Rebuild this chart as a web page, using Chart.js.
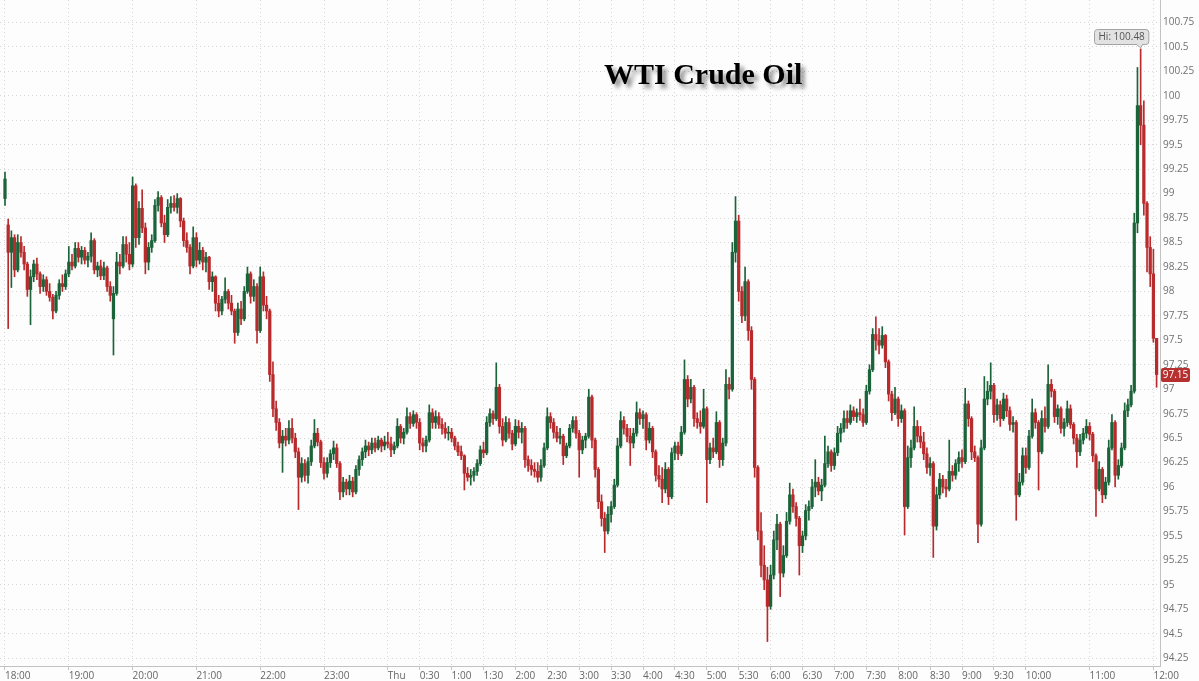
<!DOCTYPE html>
<html><head><meta charset="utf-8">
<script src="https://cdn.jsdelivr.net/npm/chart.js@4.4.1/dist/chart.umd.min.js"></script>
<style>
html,body{margin:0;padding:0;background:#fdfdfd;}
#wrap{position:relative;width:1199px;height:681px;}
#title{position:absolute;left:604px;top:57px;font:bold 30px "Liberation Serif","Times New Roman",serif;color:#000;text-shadow:4px 4px 4px rgba(0,0,0,0.45);white-space:nowrap;}
</style></head><body>
<div id="wrap"><canvas id="c" width="1199" height="681"></canvas><div id="title">WTI Crude Oil</div></div>
<script>
// 3-minute candles starting at 18:00
const BAR_MINUTES = 3;
const opens = [
98.95,98.68,98.40,98.55,98.22,98.50,98.40,98.28,98.02,98.15,98.28,98.18,98.05,98.12,98.00,97.94,97.80,97.96,98.08,98.05,
98.18,98.30,98.26,98.44,98.35,98.42,98.32,98.36,98.52,98.22,98.26,98.16,98.24,98.05,97.72,97.98,98.30,98.26,98.48,98.38,
98.28,99.08,98.55,98.85,98.65,98.30,98.45,98.52,98.88,98.96,98.70,98.58,98.86,98.90,98.86,98.95,98.72,98.52,98.45,98.26,
98.55,98.32,98.42,98.30,98.35,98.10,98.15,97.88,97.80,97.92,98.00,97.88,97.80,97.58,97.82,97.72,98.00,98.18,97.95,98.05,
97.60,98.15,97.86,97.80,97.15,96.80,96.66,96.45,96.52,96.48,96.60,96.50,96.36,96.10,96.24,96.12,96.26,96.42,96.55,96.46,
96.25,96.14,96.25,96.34,96.40,96.24,95.95,96.05,95.98,96.06,95.95,96.18,96.28,96.36,96.42,96.38,96.45,96.40,96.48,96.42,
96.46,96.44,96.38,96.42,96.62,96.50,96.56,96.72,96.65,96.74,96.66,96.45,96.42,96.48,96.76,96.66,96.72,96.64,96.60,96.55,
96.56,96.50,96.42,96.36,96.32,96.14,96.10,96.12,96.16,96.24,96.38,96.35,96.66,96.75,96.70,97.02,96.62,96.48,96.66,96.55,
96.44,96.62,96.56,96.60,96.28,96.22,96.18,96.16,96.10,96.22,96.40,96.72,96.66,96.56,96.50,96.52,96.32,96.42,96.60,96.68,
96.55,96.38,96.48,96.52,96.92,96.48,96.18,95.85,95.68,95.55,95.72,95.80,96.02,96.42,96.68,96.60,96.52,96.45,96.55,96.76,
96.70,96.74,96.48,96.60,96.36,96.12,96.08,95.98,96.18,95.90,96.35,96.42,96.34,96.56,97.10,96.90,97.02,96.70,96.66,96.62,
96.80,96.28,96.40,96.36,96.66,96.28,96.45,97.05,97.00,98.40,98.72,98.00,97.75,98.10,97.60,97.10,96.20,95.55,95.20,95.05,
94.78,95.10,95.46,95.62,95.12,95.30,95.65,95.92,95.80,95.68,95.40,95.50,95.76,95.80,96.00,96.05,95.96,96.02,96.24,96.36,
96.22,96.35,96.55,96.60,96.70,96.66,96.78,96.72,96.76,96.74,96.66,96.98,97.20,97.56,97.50,97.45,97.55,97.28,96.95,96.76,
96.90,96.70,96.78,95.80,96.30,96.40,96.62,96.52,96.46,96.34,96.20,96.24,95.60,95.92,96.08,96.00,95.98,96.16,96.12,96.24,
96.30,96.26,96.85,96.70,96.36,96.30,95.62,96.40,96.90,96.98,97.04,96.74,96.84,96.70,96.90,96.78,96.64,96.66,95.92,96.05,
96.32,96.20,96.52,96.76,96.66,96.36,96.70,96.62,97.05,96.98,96.72,96.80,96.60,96.66,96.80,96.64,96.50,96.36,96.48,96.55,
96.62,96.54,96.32,95.98,96.18,95.92,96.05,96.40,96.66,96.12,96.22,96.40,96.78,96.84,96.98,98.70,99.90,99.70,98.90,98.45,98.18,97.52
];
const highs = [
99.22,98.74,98.62,98.58,98.58,98.56,98.46,98.30,98.22,98.32,98.34,98.20,98.17,98.15,98.08,97.97,98.00,98.12,98.17,98.22,
98.46,98.38,98.50,98.50,98.46,98.45,98.40,98.60,98.54,98.30,98.32,98.30,98.26,98.10,98.05,98.40,98.38,98.56,98.56,98.50,
99.17,99.10,98.92,99.04,98.70,98.50,98.58,98.94,99.02,98.98,98.78,98.94,98.97,98.98,99.00,98.96,98.75,98.60,98.48,98.66,
98.60,98.50,98.45,98.40,98.36,98.20,98.16,97.96,97.95,98.14,98.02,97.96,97.82,97.88,97.90,98.05,98.25,98.20,98.12,98.08,
98.25,98.20,97.95,97.82,97.28,96.88,96.70,96.58,96.60,96.68,96.70,96.55,96.40,96.30,96.28,96.30,96.48,96.69,96.60,96.48,
96.30,96.30,96.38,96.47,96.44,96.26,96.10,96.08,96.12,96.10,96.22,96.32,96.40,96.48,96.46,96.50,96.50,96.52,96.50,96.52,
96.56,96.51,96.46,96.70,96.64,96.60,96.81,96.76,96.78,96.76,96.70,96.50,96.52,96.84,96.80,96.78,96.76,96.70,96.66,96.62,
96.60,96.52,96.46,96.42,96.33,96.20,96.18,96.20,96.28,96.42,96.46,96.72,96.80,96.78,97.27,97.05,96.70,96.72,96.70,96.58,
96.69,96.68,96.66,96.62,96.32,96.28,96.25,96.25,96.28,96.45,96.81,96.76,96.70,96.62,96.60,96.54,96.45,96.64,96.72,96.72,
96.58,96.52,96.55,97.00,96.94,96.50,96.20,95.92,95.74,95.80,95.85,96.08,96.50,96.77,96.72,96.64,96.60,96.60,96.87,96.80,
96.78,96.76,96.66,96.62,96.38,96.22,96.20,96.25,96.20,96.40,96.46,96.46,96.62,97.30,97.14,97.10,97.04,96.76,96.78,97.00,
96.82,96.45,96.50,96.77,96.68,96.50,97.20,97.12,98.50,98.97,98.78,98.05,98.25,98.12,97.64,97.12,96.22,95.74,95.40,95.18,
95.20,95.55,95.72,95.64,95.40,95.74,96.04,95.98,95.84,95.70,95.55,95.82,95.86,96.08,96.28,96.10,96.08,96.52,96.42,96.38,
96.40,96.62,96.65,96.78,96.78,96.84,96.82,96.80,96.90,96.80,97.04,97.25,97.62,97.74,97.62,97.64,97.56,97.30,96.98,97.02,
96.92,96.84,96.80,96.42,96.48,96.82,96.68,96.62,96.56,96.40,96.30,96.26,96.00,96.14,96.12,96.08,96.48,96.22,96.28,96.36,
96.38,97.01,96.88,96.72,96.42,96.32,96.48,97.13,97.08,97.27,97.06,96.90,96.88,96.96,96.94,96.82,96.72,96.68,96.14,96.40,
96.40,96.58,96.90,96.80,96.68,96.78,96.82,97.25,97.10,97.00,96.84,96.82,96.70,96.88,96.84,96.66,96.54,96.54,96.60,96.69,
96.66,96.56,96.34,96.26,96.20,96.10,96.48,96.74,96.68,96.28,96.45,96.86,96.90,97.04,98.80,100.29,100.48,99.95,98.92,98.56,98.43,97.52
];
const lows = [
98.88,97.62,98.04,98.15,98.20,98.35,98.22,97.95,97.66,98.10,98.12,97.98,98.00,97.96,97.90,97.72,97.78,97.92,98.00,98.02,
98.15,98.22,98.24,98.30,98.28,98.28,98.25,98.30,98.18,98.15,98.12,98.12,98.00,97.90,97.35,97.96,98.18,98.24,98.30,98.22,
98.25,98.45,98.48,98.60,98.18,98.22,98.40,98.50,98.82,98.66,98.50,98.56,98.80,98.82,98.80,98.66,98.46,98.40,98.18,98.24,
98.25,98.28,98.22,98.20,98.02,98.00,97.80,97.74,97.76,97.88,97.82,97.76,97.47,97.55,97.66,97.70,97.98,97.88,97.90,97.47,
97.58,97.80,97.72,97.08,96.72,96.58,96.40,96.15,96.42,96.44,96.45,96.30,95.77,96.05,96.06,96.04,96.22,96.40,96.42,96.20,
96.08,96.10,96.20,96.28,96.20,95.87,95.90,95.92,95.92,95.90,95.93,96.12,96.22,96.30,96.32,96.34,96.36,96.38,96.36,96.38,
96.40,96.31,96.34,96.40,96.45,96.44,96.54,96.60,96.62,96.60,96.38,96.36,96.36,96.46,96.60,96.60,96.60,96.54,96.50,96.48,
96.46,96.38,96.32,96.28,95.97,96.06,96.02,96.06,96.12,96.22,96.30,96.33,96.62,96.64,96.68,96.55,96.42,96.46,96.50,96.38,
96.42,96.50,96.45,96.20,96.16,96.12,96.10,96.05,96.06,96.20,96.38,96.60,96.50,96.46,96.44,96.23,96.30,96.40,96.56,96.50,
96.10,96.34,96.40,96.50,96.40,96.10,95.78,95.60,95.33,95.52,95.64,95.78,96.00,96.40,96.54,96.46,96.22,96.40,96.52,96.64,
96.60,96.38,96.45,96.30,96.06,96.00,95.84,95.94,95.82,95.88,96.28,96.28,96.32,96.54,96.82,96.86,96.62,96.60,96.55,96.60,
95.84,96.24,96.30,96.34,96.20,96.22,96.42,96.90,96.98,98.30,97.90,97.68,97.70,97.50,97.00,96.10,95.46,95.08,94.95,94.42,
94.75,95.06,95.36,94.88,95.08,95.28,95.62,95.74,95.60,95.10,95.33,95.46,95.66,95.78,95.90,95.92,95.86,96.00,96.20,96.16,
96.18,96.32,96.46,96.56,96.60,96.64,96.68,96.66,96.68,96.62,96.64,96.95,97.18,97.40,97.36,97.42,97.22,96.88,96.68,96.74,
96.62,96.66,95.51,95.78,96.20,96.38,96.46,96.40,96.28,96.14,96.12,95.28,95.56,95.88,95.94,95.90,95.96,96.06,96.08,96.16,
96.20,96.24,96.62,96.28,96.26,95.43,95.60,96.38,96.84,96.90,96.66,96.68,96.62,96.68,96.72,96.58,96.56,95.66,95.90,96.02,
96.14,96.18,96.50,96.60,95.97,96.34,96.56,96.60,96.92,96.66,96.64,96.55,96.52,96.62,96.60,96.44,96.20,96.32,96.44,96.50,
96.48,96.26,95.70,95.96,95.84,95.88,96.02,96.38,96.00,96.08,96.20,96.38,96.72,96.82,96.96,98.60,99.50,98.78,98.20,98.05,97.48,97.02
];
const closes = [
99.15,98.40,98.55,98.22,98.50,98.40,98.28,98.02,98.15,98.28,98.18,98.05,98.12,98.00,97.94,97.80,97.96,98.08,98.05,98.18,
98.30,98.26,98.44,98.35,98.42,98.32,98.36,98.52,98.22,98.26,98.16,98.24,98.05,97.96,97.98,98.30,98.26,98.48,98.38,98.28,
99.08,98.55,98.85,98.65,98.30,98.45,98.52,98.88,98.96,98.70,98.58,98.86,98.90,98.86,98.95,98.72,98.52,98.45,98.26,98.55,
98.32,98.42,98.30,98.35,98.10,98.15,97.88,97.80,97.92,98.00,97.88,97.80,97.58,97.82,97.72,98.00,98.18,97.95,98.05,97.60,
98.15,97.86,97.80,97.15,96.80,96.66,96.45,96.52,96.48,96.60,96.50,96.36,96.10,96.24,96.12,96.26,96.42,96.55,96.46,96.25,
96.14,96.25,96.34,96.40,96.24,95.95,96.05,95.98,96.06,95.95,96.18,96.28,96.36,96.42,96.38,96.45,96.40,96.48,96.42,96.46,
96.44,96.38,96.42,96.62,96.50,96.56,96.72,96.65,96.74,96.66,96.45,96.42,96.48,96.76,96.66,96.72,96.64,96.60,96.55,96.56,
96.50,96.42,96.36,96.32,96.14,96.10,96.12,96.16,96.24,96.38,96.35,96.66,96.75,96.70,97.02,96.62,96.48,96.66,96.55,96.44,
96.62,96.56,96.60,96.28,96.22,96.18,96.16,96.10,96.22,96.40,96.72,96.66,96.56,96.50,96.52,96.32,96.42,96.60,96.68,96.55,
96.38,96.48,96.52,96.92,96.48,96.18,95.85,95.68,95.55,95.72,95.80,96.02,96.42,96.68,96.60,96.52,96.45,96.55,96.76,96.70,
96.74,96.48,96.60,96.36,96.12,96.08,95.98,96.18,95.90,96.35,96.42,96.34,96.56,97.10,96.90,97.02,96.70,96.66,96.62,96.80,
96.28,96.40,96.36,96.66,96.28,96.45,97.05,97.00,98.40,98.72,98.00,97.75,98.10,97.60,97.10,96.20,95.55,95.20,95.05,94.78,
95.10,95.46,95.62,95.12,95.30,95.65,95.92,95.80,95.68,95.40,95.50,95.76,95.80,96.00,96.05,95.96,96.02,96.24,96.36,96.22,
96.35,96.55,96.60,96.70,96.66,96.78,96.72,96.76,96.74,96.66,96.98,97.20,97.56,97.50,97.45,97.55,97.28,96.95,96.76,96.90,
96.70,96.78,95.80,96.30,96.40,96.62,96.52,96.46,96.34,96.20,96.24,95.60,95.92,96.08,96.00,95.98,96.16,96.12,96.24,96.30,
96.26,96.85,96.70,96.36,96.30,95.62,96.40,96.90,96.98,97.04,96.74,96.84,96.70,96.90,96.78,96.64,96.66,95.92,96.05,96.32,
96.20,96.52,96.76,96.66,96.36,96.70,96.62,97.05,96.98,96.72,96.80,96.60,96.66,96.80,96.64,96.50,96.36,96.48,96.55,96.62,
96.54,96.32,95.98,96.18,95.92,96.05,96.40,96.66,96.12,96.22,96.40,96.78,96.84,96.98,98.70,99.90,99.70,98.90,98.45,98.18,97.52,97.15
];
// axis ticks (minutes after 18:00) and their labels
const tickMinutes = [0,60,120,180,240,300,360,390,420,450,480,510,540,570,600,630,660,690,720,750,780,810,840,870,900,930,960,1020,1080];
const tickLabels = ['18:00','19:00','20:00','21:00','22:00','23:00','Thu','0:30','1:00','1:30','2:00','2:30','3:00','3:30','4:00','4:30','5:00','5:30','6:00','6:30','7:00','7:30','8:00','8:30','9:00','9:30','10:00','11:00','12:00'];
const priceTicks = [94.25,94.5,94.75,95,95.25,95.5,95.75,96,96.25,96.5,96.75,97,97.25,97.5,97.75,98,98.25,98.5,98.75,99,99.25,99.5,99.75,100,100.25,100.5,100.75];

const UP = '#1b6338', DOWN = '#b92a2d';
const times = closes.map((_, i) => i * BAR_MINUTES);
const labelAt = {}; tickMinutes.forEach((m, i) => labelAt[m] = tickLabels[i]);
const colorOf = i => closes[i] >= opens[i] ? UP : DOWN;
const FONT = '"Open Sans", "Liberation Sans", sans-serif';

function rr(ctx, x, y, w, h, r) {
  ctx.beginPath();
  ctx.moveTo(x + r, y); ctx.lineTo(x + w - r, y); ctx.quadraticCurveTo(x + w, y, x + w, y + r);
  ctx.lineTo(x + w, y + h - r); ctx.quadraticCurveTo(x + w, y + h, x + w - r, y + h);
  ctx.lineTo(x + r, y + h); ctx.quadraticCurveTo(x, y + h, x, y + h - r);
  ctx.lineTo(x, y + r); ctx.quadraticCurveTo(x, y, x + r, y); ctx.closePath();
}

const annotate = {
  id: 'annotate',
  afterDraw(chart) {
    const {ctx, scales: {x, y}, chartArea} = chart;
    // high marker
    let k = 0; highs.forEach((h, i) => { if (h > highs[k]) k = i; });
    const px = x.getPixelForValue(times[k]), py = y.getPixelForValue(highs[k]);
    const txt = 'Hi: ' + highs[k].toFixed(2);
    ctx.save();
    ctx.font = '10px ' + FONT;
    const w = ctx.measureText(txt).width + 8, h = 15;
    const bx = Math.round(px + 8 - w) + 0.5, by = Math.round(py - 5 - h) + 0.5;
    ctx.fillStyle = '#e2e2e2'; ctx.strokeStyle = '#a3a3a3'; ctx.lineWidth = 1;
    rr(ctx, bx, by, w, h, 3); ctx.fill(); ctx.stroke();
    ctx.beginPath(); ctx.moveTo(px - 4, by + h); ctx.lineTo(px, py - 1); ctx.lineTo(px + 2, by + h); ctx.closePath();
    ctx.fill(); ctx.stroke();
    ctx.fillStyle = '#e2e2e2'; ctx.fillRect(px - 3.5, by + h - 1.5, 5, 2);
    ctx.fillStyle = '#555'; ctx.textAlign = 'center'; ctx.textBaseline = 'middle';
    ctx.fillText(txt, bx + w / 2, by + h / 2 + 0.5);
    // last price tag
    const last = closes[closes.length - 1];
    const ly = y.getPixelForValue(last);
    const tx = chartArea.right + 1;
    ctx.fillStyle = '#b5302f';
    rr(ctx, tx, Math.round(ly - 7), 29, 14, 2); ctx.fill();
    ctx.fillStyle = '#fff'; ctx.textAlign = 'center';
    ctx.fillText(last.toFixed(2), tx + 14.5, Math.round(ly) + 0.5);
    ctx.restore();
  }
};

new Chart(document.getElementById('c'), {
  type: 'bar',
  data: {
    datasets: [
      { label: 'range', data: times.map((t, i) => ({x: t, y: [lows[i], highs[i]]})),
        barThickness: 1, grouped: false, order: 2, backgroundColor: c => colorOf(c.dataIndex) },
      { label: 'body', data: times.map((t, i) => ({x: t, y: [opens[i], closes[i]]})),
        barThickness: 2.6, minBarLength: 1, grouped: false, order: 1, backgroundColor: c => colorOf(c.dataIndex) }
    ]
  },
  options: {
    responsive: false, animation: false, events: [],
    layout: { padding: 0 },
    plugins: { legend: { display: false }, tooltip: { enabled: false }, title: { display: false } },
    scales: {
      x: {
        type: 'linear', position: 'bottom', min: -4.7, max: 1086.2, offset: false,
        grid: { color: '#d6d6d6', offset: false, drawTicks: true, tickLength: 4, tickColor: '#c6c6c6' },
        border: { display: true, color: '#c2c2c2', dash: [1, 3] },
        ticks: { autoSkip: false, maxRotation: 0, minRotation: 0, align: 'start', padding: 0, color: '#666',
                 font: { family: FONT, size: 10 }, callback: v => labelAt[v] !== undefined ? labelAt[v] : '' },
        afterBuildTicks: s => { s.ticks = tickMinutes.map(v => ({ value: v })); },
        afterFit: s => { s.height = 15; s.paddingLeft = 0; s.paddingRight = 0; }
      },
      y: {
        type: 'linear', position: 'right', min: 94.17, max: 100.98,
        grid: { color: '#d6d6d6', drawTicks: false },
        border: { display: true, color: '#c2c2c2', dash: [1, 3] },
        ticks: { padding: 3, color: '#707070', font: { family: FONT, size: 10 }, callback: v => String(+Number(v).toFixed(2)) },
        afterBuildTicks: s => { s.ticks = priceTicks.map(v => ({ value: v })); },
        afterFit: s => { s.width = 39; s.paddingTop = 0; s.paddingBottom = 0; }
      }
    }
  },
  plugins: [annotate]
});
</script>
</body></html>
